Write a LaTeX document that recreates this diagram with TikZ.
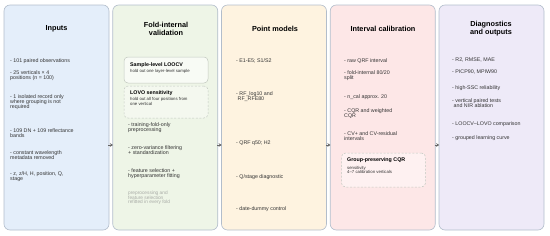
\documentclass[tikz,border=0pt]{standalone}
\usepackage{fontspec}
\setmainfont{Liberation Sans}
\usetikzlibrary{arrows.meta}
\definecolor{pborder}{HTML}{B2BDCB}
\definecolor{fillA}{HTML}{E4EEFA}
\definecolor{fillB}{HTML}{EEF5E7}
\definecolor{fillC}{HTML}{FEF3E0}
\definecolor{fillD}{HTML}{FDE7E7}
\definecolor{fillE}{HTML}{EEEAF8}
\definecolor{txt}{HTML}{333333}
\definecolor{notegray}{HTML}{A8ABA6}
\definecolor{bborder}{HTML}{C2C8C0}
\begin{document}
\begin{tikzpicture}[x=1pt,y=-1pt,
  panel/.style={draw=pborder, line width=0.6pt, rounded corners=6pt, minimum width=105pt, minimum height=225pt, inner sep=0pt},
  ttl/.style={font=\bfseries\fontsize{7.3}{8}\selectfont, align=center, text=black, inner sep=0pt},
  itm/.style={anchor=north west, inner sep=0pt, align=left, font=\fontsize{5.3}{5.2}\selectfont, text=txt},
  boxttl/.style={anchor=north west, inner sep=0pt, font=\bfseries\fontsize{5.3}{5.3}\selectfont, text=black},
  boxtxt/.style={anchor=north west, inner sep=0pt, align=left, font=\fontsize{4.3}{4.4}\selectfont, text=txt},
  note/.style={anchor=north west, inner sep=0pt, align=left, font=\fontsize{4.8}{4.6}\selectfont, text=notegray},
  solidbox/.style={draw=bborder, line width=0.5pt, rounded corners=4pt, inner sep=0pt},
  dashbox/.style={draw=bborder, line width=0.5pt, dash pattern=on 2pt off 1.6pt, rounded corners=4pt, inner sep=0pt},
  conn/.style={draw=black!60, line width=0.5pt, -{Stealth[length=3pt,width=3.6pt]}}
]
\useasboundingbox (0,0) rectangle (550,236);

% panels
\node[panel, fill=fillA] (p1) at (56.5,117.5) {};
\node[panel, fill=fillB] (p2) at (165.25,117.5) {};
\node[panel, fill=fillC] (p3) at (274,117.5) {};
\node[panel, fill=fillD] (p4) at (382.75,117.5) {};
\node[panel, fill=fillE] (p5) at (491.5,117.5) {};

% connectors
\draw[conn] ([xshift=-1pt,yshift=-27.5pt]p1.east) -- ([xshift=0.5pt,yshift=-27.5pt]p2.west);
\draw[conn] ([xshift=-1pt,yshift=-27.5pt]p2.east) -- ([xshift=0.5pt,yshift=-27.5pt]p3.west);
\draw[conn] ([xshift=-1pt,yshift=-27.5pt]p3.east) -- ([xshift=0.5pt,yshift=-27.5pt]p4.west);
\draw[conn] ([xshift=-1pt,yshift=-27.5pt]p4.east) -- ([xshift=0.5pt,yshift=-27.5pt]p5.west);

% titles
\node[ttl] (t1) at (56.5,29) {Inputs};
\node[ttl] (t2) at (166,29) {Fold-internal\\validation};
\node[ttl] (t3) at (275,29) {Point models};
\node[ttl] (t4) at (383,29) {Interval calibration};
\node[ttl] (t5) at (491,29) {Diagnostics\\and outputs};

% inputs
\node[itm] (a1) at (10,58) {- 101 paired observations};
\node[itm] (a2) at (10,70) {- 25 verticals × 4\\positions (n = 100)};
\node[itm] (a3) at (10,94) {- 1 isolated record only\\where grouping is not\\required};
\node[itm] (a4) at (10,128) {- 109 DN + 109 reflectance\\bands};
\node[itm] (a5) at (10,150) {- constant wavelength\\metadata removed};
\node[itm] (a6) at (10,171) {- z, z/H, H, position, Q,\\stage};

% fold-internal validation
\node[solidbox, fill=white!60!fillB, minimum width=84pt, minimum height=26pt] (b1) at (166,70) {};
\node[boxttl] (b1t) at (130,62) {Sample-level LOOCV};
\node[boxtxt] (b1s) at (130,69) {hold out one layer-level sample};
\node[dashbox, fill=white!35!fillB, minimum width=84pt, minimum height=32pt] (b2) at (166,102) {};
\node[boxttl] (b2t) at (130,90) {LOVO sensitivity};
\node[boxtxt] (b2s) at (130,97.5) {hold out all four positions from\\one vertical};
\node[itm] (c1) at (128,122) {- training-fold-only\\preprocessing};
\node[itm] (c2) at (128,145) {- zero-variance filtering\\+ standardization};
\node[itm] (c3) at (128,168) {- feature selection +\\hyperparameter fitting};
\node[note] (c4) at (128,191) {preprocessing and\\feature selection\\refitted in every fold};

% point models
\node[itm] (d1) at (236,58) {- E1-E5; S1/S2};
\node[itm] (d2) at (236,91) {- RF\_log10 and\\\ RF\_RFE80};
\node[itm] (d3) at (236,141) {- QRF q50; H2};
\node[itm] (d4) at (236,174) {- Q/stage diagnostic};
\node[itm] (d5) at (236,206) {- date-dummy control};

% interval calibration
\node[itm] (e1) at (344,58) {- raw QRF interval};
\node[itm] (e2) at (344,70) {- fold-internal 80/20\\split};
\node[itm] (e3) at (344,94) {- n\_cal approx. 20};
\node[itm] (e4) at (344,108) {- CQR and weighted\\CQR};
\node[itm] (e5) at (344,131) {- CV+ and CV-residual\\intervals};
\node[dashbox, fill=white!40!fillD, minimum width=84pt, minimum height=34pt] (g1) at (383.5,170) {};
\node[boxttl] (g1t) at (347,157.5) {Group-preserving CQR};
\node[boxtxt] (g1s) at (347,166) {sensitivity\\4–7 calibration verticals};

% diagnostics
\node[itm] (f1) at (452,58) {- R2, RMSE, MAE};
\node[itm] (f2) at (452,70) {- PICP90, MPIW90};
\node[itm] (f3) at (452,85) {- high-SSC reliability};
\node[itm] (f4) at (452,98) {- vertical paired tests\\\ and NIR ablation};
\node[itm] (f5) at (452,121) {- LOOCV–LOVO comparison};
\node[itm] (f6) at (452,135) {- grouped learning curve};
\end{tikzpicture}
\end{document}
